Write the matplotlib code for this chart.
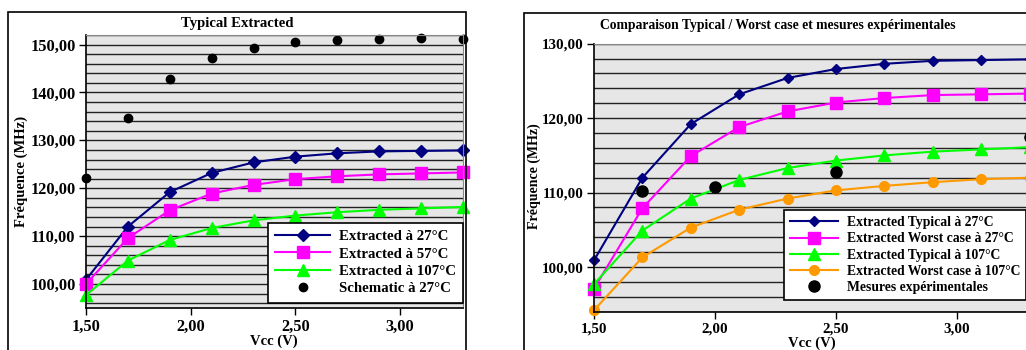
import matplotlib.pyplot as plt
import numpy as np
from matplotlib.patches import Rectangle
from matplotlib.ticker import MultipleLocator, FuncFormatter

plt.rcParams['font.family'] = ['Liberation Serif', 'DejaVu Serif']
plt.rcParams['font.weight'] = 'bold'

# data
vcc = [1.5, 1.7, 1.9, 2.1, 2.3, 2.5, 2.7, 2.9, 3.1, 3.3]
ext_27 = [100.9, 112.0, 119.2, 123.2, 125.4, 126.6, 127.3, 127.7, 127.8, 127.9]
ext_57 = [100.0, 109.6, 115.4, 118.9, 120.7, 121.9, 122.5, 122.9, 123.1, 123.3]
ext_107 = [97.7, 104.9, 109.2, 111.7, 113.3, 114.3, 115.0, 115.5, 115.8, 116.1]
schem_27 = [122.1, 134.7, 142.9, 147.1, 149.3, 150.5, 151.0, 151.2, 151.3, 151.2]

wc_27 = [97.1, 107.9, 114.9, 118.8, 120.9, 122.1, 122.7, 123.1, 123.2, 123.3]
wc_107 = [94.2, 101.3, 105.3, 107.7, 109.2, 110.3, 110.9, 111.4, 111.8, 112.0]
mes_vcc = [1.7, 2.0, 2.5, 3.3]
mes_freq = [110.2, 110.7, 112.8, 117.5]

W, H = 1026, 350
fig = plt.figure(figsize=(W / 100, H / 100), dpi=100)


def px_axes(x0, y0, x1, y1):
    return fig.add_axes([x0 / W, (H - y1) / H, (x1 - x0) / W, (y1 - y0) / H])


def frame(x0, y0, x1, y1):
    fig.patches.append(Rectangle((x0 / W, (H - y1) / H), (x1 - x0) / W, (y1 - y0) / H,
                                 transform=fig.transFigure, fill=False,
                                 edgecolor='black', lw=1.2, clip_on=False))


def style(ax, ymin, ymax, fs):
    ax.set_facecolor('#e6e6e6')
    ax.set_xlim(1.5, 3.3)
    ax.set_ylim(ymin, ymax)
    ax.xaxis.set_major_locator(MultipleLocator(0.5))
    ax.yaxis.set_major_locator(MultipleLocator(10))
    ax.yaxis.set_minor_locator(MultipleLocator(2))
    fmt = FuncFormatter(lambda v, p: f"{v:.2f}".replace('.', ','))
    ax.xaxis.set_major_formatter(fmt)
    ax.yaxis.set_major_formatter(fmt)
    ax.grid(axis='y', which='both', color='#222222', lw=1.0)
    ax.set_axisbelow(True)
    ax.tick_params(which='minor', length=0)
    ax.tick_params(which='major', direction='out', length=5, width=1,
                   labelsize=fs, pad=2.5)
    for lab in ax.get_xticklabels() + ax.get_yticklabels():
        lab.set_fontweight('bold')
    for s in ['top', 'right']:
        ax.spines[s].set_color('#888888')
    for s in ['left', 'bottom']:
        ax.spines[s].set_color('black')
        ax.spines[s].set_linewidth(1.2)


frame(8, 12, 466, 400)
frame(524, 13, 1100, 400)

# left chart
ax1 = px_axes(86, 35, 463, 308)
style(ax1, 95, 152, 11.8)
ax1.plot(vcc, ext_27, color='#000080', marker='D', ms=6, lw=1.5, label='Extracted à 27°C', clip_on=False)
ax1.plot(vcc, ext_57, color='#ff00ff', marker='s', ms=8, lw=1.5, label='Extracted à 57°C', clip_on=False)
ax1.plot(vcc, ext_107, color='#00ff00', marker='^', ms=8, lw=1.5, label='Extracted à 107°C', clip_on=False)
ax1.plot(vcc, schem_27, color='black', marker='o', ms=6, lw=0, label='Schematic à 27°C', clip_on=False)
leg1 = ax1.legend(loc='upper left', bbox_to_anchor=(268 / W, (H - 222.5) / H),
                  bbox_transform=fig.transFigure, fancybox=False, edgecolor='black',
                  framealpha=1, prop={'weight': 'bold', 'size': 10.7}, handlelength=3.7,
                  borderpad=0.5, labelspacing=0.26, handletextpad=0.55, borderaxespad=0)
leg1.get_frame().set_linewidth(1.2)
fig.text(274 / W, (H - 341.5) / H, 'Vcc (V)', ha='center', va='center', fontsize=10.5, fontweight='bold')
fig.text(21 / W, (H - 171) / H, 'Fréquence (MHz)', ha='center', va='center', rotation=90,
         fontsize=10.5, fontweight='bold')
fig.text(237 / W, (H - 24) / H, 'Typical Extracted', ha='center', va='center', fontsize=10.6, fontweight='bold')

# right chart
ax2 = px_axes(594, 43.7, 1029.6, 311.7)
style(ax2, 94, 130, 10.8)
ax2.plot(vcc, ext_27, color='#000080', marker='D', ms=5, lw=1.5, label='Extracted Typical à 27°C', clip_on=False)
ax2.plot(vcc, wc_27, color='#ff00ff', marker='s', ms=8, lw=1.5, label='Extracted Worst case à 27°C', clip_on=False)
ax2.plot(vcc, ext_107, color='#00ff00', marker='^', ms=8, lw=1.5, label='Extracted Typical à 107°C', clip_on=False)
ax2.plot(vcc, wc_107, color='#ff9900', marker='o', ms=7, lw=1.5, label='Extracted Worst case à 107°C', clip_on=False)
ax2.plot(mes_vcc, mes_freq, color='black', marker='o', ms=8, lw=0, label='Mesures expérimentales', clip_on=False)
leg2 = ax2.legend(loc='upper left', bbox_to_anchor=(784 / W, (H - 210) / H),
                  bbox_transform=fig.transFigure, fancybox=False, edgecolor='black',
                  framealpha=1, prop={'weight': 'bold', 'size': 9.8}, handlelength=3.5,
                  borderpad=0.45, labelspacing=0.24, handletextpad=0.65, borderaxespad=0)
leg2.get_frame().set_linewidth(1.2)
fig.text(812 / W, (H - 343) / H, 'Vcc (V)', ha='center', va='center', fontsize=10.5, fontweight='bold')
fig.text(534 / W, (H - 176) / H, 'Fréquence (MHz)', ha='center', va='center', rotation=90,
         fontsize=10, fontweight='bold')
fig.text(778 / W, (H - 25) / H, 'Comparaison Typical / Worst case et mesures expérimentales',
         ha='center', va='center', fontsize=9.8, fontweight='bold')

fig.savefig('out.png', dpi=100)
